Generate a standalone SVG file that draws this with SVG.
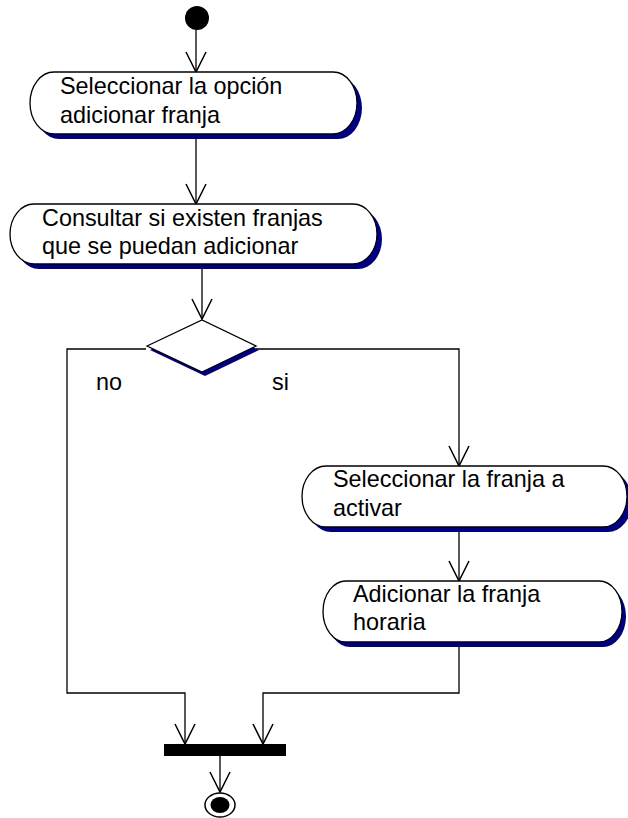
<svg xmlns="http://www.w3.org/2000/svg" width="628" height="818" viewBox="0 0 628 818">
<style>
.sh{fill:#000080;stroke:none}
.box{fill:#fff;stroke:#000;stroke-width:1.3}
.t{font-family:"Liberation Sans",Arial,sans-serif;font-size:23.4px;fill:#000}
.c{fill:none;stroke:#000;stroke-width:1.3}
</style>
<defs>
<marker id="ah" markerUnits="userSpaceOnUse" viewBox="-22 -12 24 24" refX="0" refY="0" markerWidth="24" markerHeight="24" orient="auto">
<path d="M -20 -10 L 0 0 L -20 10" fill="none" stroke="#000" stroke-width="1.5"/>
</marker>
</defs>
<rect width="628" height="818" fill="#fff"/>
<g id="connectors">
<path class="c" d="M 196 30 V 72" marker-end="url(#ah)"/>
<path class="c" d="M 196 134 V 204" marker-end="url(#ah)"/>
<path class="c" d="M 202 265 V 319" marker-end="url(#ah)"/>
<path class="c" d="M 146 349 H 67 V 693 H 185 V 744" marker-end="url(#ah)"/>
<path class="c" d="M 256 349 H 459 V 466" marker-end="url(#ah)"/>
<path class="c" d="M 459 528 V 581" marker-end="url(#ah)"/>
<path class="c" d="M 459 643 V 693 H 263 V 744" marker-end="url(#ah)"/>
<path class="c" d="M 220 756 V 792" marker-end="url(#ah)"/>
</g>
<g id="start">
<circle cx="197" cy="18" r="12" fill="#000"/>
</g>
<g id="a1">
<path class="sh" transform="translate(5,5)" d="M 54 72 H 333 A 24 31 0 0 1 333 134 H 54 A 24 31 0 0 1 54 72 Z"/>
<path class="box" d="M 54 72 H 333 A 24 31 0 0 1 333 134 H 54 A 24 31 0 0 1 54 72 Z"/>
<text class="t" x="60" y="94">Seleccionar la opción</text>
<text class="t" x="60" y="123">adicionar franja</text>
</g>
<g id="a2">
<path class="sh" transform="translate(5,5)" d="M 34 204 H 353 A 24 30 0 0 1 353 264 H 34 A 24 30 0 0 1 34 204 Z"/>
<path class="box" d="M 34 204 H 353 A 24 30 0 0 1 353 264 H 34 A 24 30 0 0 1 34 204 Z"/>
<text class="t" x="42" y="226">Consultar si existen franjas</text>
<text class="t" x="42" y="254">que se puedan adicionar</text>
</g>
<g id="decision">
<path class="sh" transform="translate(3,4)" d="M 147 346 L 202 320 L 256 346 L 202 372 Z"/>
<path class="box" d="M 147 346 L 202 320 L 256 346 L 202 372 Z"/>
</g>
<g id="labels">
<text class="t" x="96" y="390">no</text>
<text class="t" x="272" y="390">si</text>
</g>
<g id="a3">
<path class="sh" transform="translate(5,5)" d="M 326 466 H 603 A 24 30.5 0 0 1 603 527 H 326 A 24 30.5 0 0 1 326 466 Z"/>
<path class="box" d="M 326 466 H 603 A 24 30.5 0 0 1 603 527 H 326 A 24 30.5 0 0 1 326 466 Z"/>
<text class="t" x="333" y="487">Seleccionar la franja a</text>
<text class="t" x="333" y="516">activar</text>
</g>
<g id="a4">
<path class="sh" transform="translate(4,5)" d="M 346 581 H 599 A 23 30.5 0 0 1 599 642 H 346 A 23 30.5 0 0 1 346 581 Z"/>
<path class="box" d="M 346 581 H 599 A 23 30.5 0 0 1 599 642 H 346 A 23 30.5 0 0 1 346 581 Z"/>
<text class="t" x="353" y="602">Adicionar la franja</text>
<text class="t" x="353" y="630">horaria</text>
</g>
<g id="join">
<rect x="164" y="744" width="122" height="12" fill="#000"/>
</g>
<g id="end">
<ellipse cx="220" cy="805" rx="15" ry="12" fill="#fff" stroke="#000" stroke-width="1.5"/>
<ellipse cx="220" cy="805" rx="9.5" ry="8" fill="#000"/>
</g>
</svg>
